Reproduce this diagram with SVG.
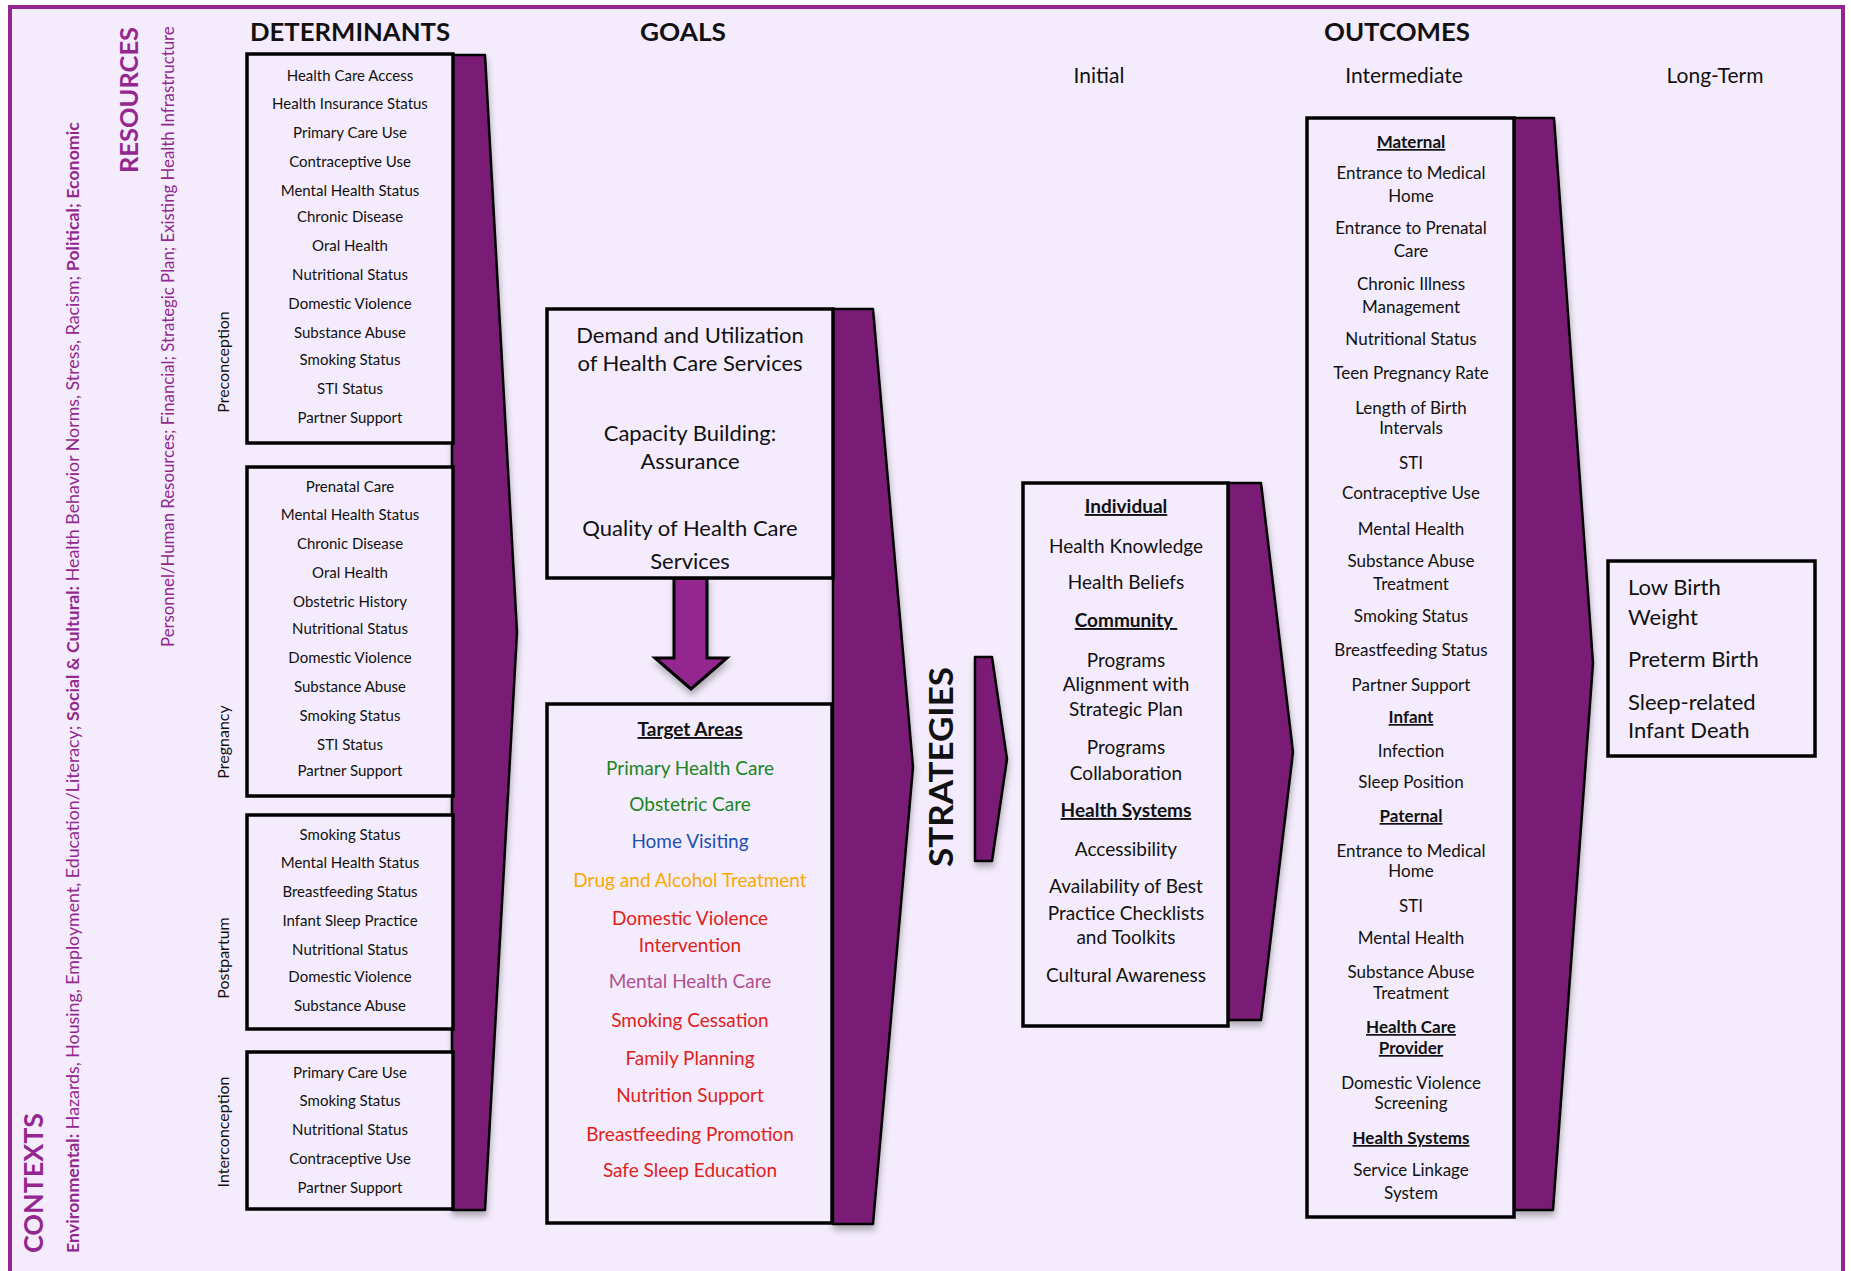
<svg xmlns="http://www.w3.org/2000/svg" width="1851" height="1271" viewBox="0 0 1851 1271">
<defs>
<filter id="sh" x="-30%" y="-5%" width="160%" height="115%"><feDropShadow dx="1" dy="5" stdDeviation="3" flood-color="#000" flood-opacity="0.28"/></filter>
</defs>
<style>
text{font-family:Lato,"Open Sans","Liberation Sans",sans-serif;fill:#111}
.hd{font-size:24px;font-weight:700;text-anchor:middle}
.sub{font-size:21px;text-anchor:middle}
.box{fill:#F4ECFC;stroke:#000;stroke-width:3.5}
.arr{fill:#7A1A76;stroke:#000;stroke-width:2.5;stroke-linejoin:round}
.d{font-size:15px;text-anchor:middle}
.ph{font-size:16px;text-anchor:middle}
.g{font-size:22px;text-anchor:middle}
.t{font-size:19px;text-anchor:middle}
.s{font-size:19px;text-anchor:middle}
.i{font-size:17px;text-anchor:middle}
.l{font-size:22px}
.u{font-weight:700;text-decoration:underline}
.p{fill:#93278F}
.gr{fill:#1B841F}.bl{fill:#1E50B4}.or{fill:#FBA800}.rd{fill:#E0211B}.mv{fill:#B0508E}
</style>
<rect x="0" y="0" width="1851" height="1271" fill="#fff"/>
<rect x="10" y="7" width="1833" height="1300" fill="#F4ECFC" stroke="#93278F" stroke-width="4"/>

<g id="contexts">
<text class="p" transform="translate(43,1253) rotate(-90)" font-size="26" font-weight="700" textLength="140" lengthAdjust="spacingAndGlyphs">CONTEXTS</text>
<text class="p" transform="translate(79,1253) rotate(-90)" font-size="17.8"><tspan font-weight="700">Environmental:</tspan> Hazards, Housing, Employment, Education/Literacy; <tspan font-weight="700">Social &amp; Cultural:</tspan> Health Behavior Norms, Stress, Racism; <tspan font-weight="700">Political; Economic</tspan></text>
</g>
<g id="resources">
<text class="p" transform="translate(138,173) rotate(-90)" font-size="25" font-weight="700" textLength="146" lengthAdjust="spacingAndGlyphs">RESOURCES</text>
<text class="p" transform="translate(174,647) rotate(-90)" font-size="16.8">Personnel/Human Resources; Financial; Strategic Plan; Existing Health Infrastructure</text>
</g>

<g id="headers">
<text class="hd" x="350" y="41" textLength="200" lengthAdjust="spacingAndGlyphs">DETERMINANTS</text>
<text class="hd" x="683" y="41" textLength="86" lengthAdjust="spacingAndGlyphs">GOALS</text>
<text class="hd" x="1397" y="41" textLength="146" lengthAdjust="spacingAndGlyphs">OUTCOMES</text>
<text class="sub" x="1099" y="83">Initial</text>
<text class="sub" x="1404" y="83">Intermediate</text>
<text class="sub" x="1715" y="83">Long-Term</text>
</g>

<g id="connectors" filter="url(#sh)">
<polygon class="arr" points="452,55 485,55 517,632 485,1210 452,1210"/>
<polygon class="arr" points="833,309 873,309 913,767 873,1224 833,1224"/>
<polygon class="arr" points="975,657 992,657 1007,759 992,861 975,861"/>
<polygon class="arr" points="1228,483 1261,483 1293,752 1261,1020 1228,1020"/>
<polygon class="arr" points="1514,118 1554,118 1593,663 1553,1210 1514,1210"/>
<polygon points="674,578 707,578 707,658 727,658 691,689 655,658 674,658" fill="#93278F" stroke="#000" stroke-width="3" stroke-linejoin="miter"/>
</g>

<g id="preconception">
<rect class="box" x="247" y="54" width="206" height="389"/>
<text class="ph" transform="translate(229,362) rotate(-90)">Preconception</text>
<text class="d" x="350" y="81">Health Care Access</text>
<text class="d" x="350" y="109">Health Insurance Status</text>
<text class="d" x="350" y="138">Primary Care Use</text>
<text class="d" x="350" y="167">Contraceptive Use</text>
<text class="d" x="350" y="196">Mental Health Status</text>
<text class="d" x="350" y="222">Chronic Disease</text>
<text class="d" x="350" y="251">Oral Health</text>
<text class="d" x="350" y="280">Nutritional Status</text>
<text class="d" x="350" y="309">Domestic Violence</text>
<text class="d" x="350" y="338">Substance Abuse</text>
<text class="d" x="350" y="365">Smoking Status</text>
<text class="d" x="350" y="394">STI Status</text>
<text class="d" x="350" y="423">Partner Support</text>
</g>

<g id="pregnancy">
<rect class="box" x="247" y="467" width="206" height="329"/>
<text class="ph" transform="translate(229,742) rotate(-90)">Pregnancy</text>
<text class="d" x="350" y="492">Prenatal Care</text>
<text class="d" x="350" y="520">Mental Health Status</text>
<text class="d" x="350" y="549">Chronic Disease</text>
<text class="d" x="350" y="578">Oral Health</text>
<text class="d" x="350" y="607">Obstetric History</text>
<text class="d" x="350" y="634">Nutritional Status</text>
<text class="d" x="350" y="663">Domestic Violence</text>
<text class="d" x="350" y="692">Substance Abuse</text>
<text class="d" x="350" y="721">Smoking Status</text>
<text class="d" x="350" y="750">STI Status</text>
<text class="d" x="350" y="776">Partner Support</text>
</g>

<g id="postpartum">
<rect class="box" x="247" y="815" width="206" height="214"/>
<text class="ph" transform="translate(229,958) rotate(-90)">Postpartum</text>
<text class="d" x="350" y="840">Smoking Status</text>
<text class="d" x="350" y="868">Mental Health Status</text>
<text class="d" x="350" y="897">Breastfeeding Status</text>
<text class="d" x="350" y="926">Infant Sleep Practice</text>
<text class="d" x="350" y="955">Nutritional Status</text>
<text class="d" x="350" y="982">Domestic Violence</text>
<text class="d" x="350" y="1011">Substance Abuse</text>
</g>

<g id="interconception">
<rect class="box" x="247" y="1052" width="206" height="157"/>
<text class="ph" transform="translate(229,1132) rotate(-90)">Interconception</text>
<text class="d" x="350" y="1078">Primary Care Use</text>
<text class="d" x="350" y="1106">Smoking Status</text>
<text class="d" x="350" y="1135">Nutritional Status</text>
<text class="d" x="350" y="1164">Contraceptive Use</text>
<text class="d" x="350" y="1193">Partner Support</text>
</g>

<g id="goals">
<rect class="box" x="547" y="309" width="286" height="269"/>
<text class="g" x="690" y="343">Demand and Utilization</text>
<text class="g" x="690" y="371">of Health Care Services</text>
<text class="g" x="690" y="441">Capacity Building:</text>
<text class="g" x="690" y="469">Assurance</text>
<text class="g" x="690" y="536">Quality of Health Care</text>
<text class="g" x="690" y="569">Services</text>
</g>

<g id="target-areas">
<rect class="box" x="547" y="704" width="285" height="519"/>
<text class="t u" x="690" y="736">Target Areas</text>
<text class="t gr" x="690" y="775">Primary Health Care</text>
<text class="t gr" x="690" y="811">Obstetric Care</text>
<text class="t bl" x="690" y="848">Home Visiting</text>
<text class="t or" x="690" y="887">Drug and Alcohol Treatment</text>
<text class="t rd" x="690" y="925">Domestic Violence</text>
<text class="t rd" x="690" y="952">Intervention</text>
<text class="t mv" x="690" y="988">Mental Health Care</text>
<text class="t rd" x="690" y="1027">Smoking Cessation</text>
<text class="t rd" x="690" y="1065">Family Planning</text>
<text class="t rd" x="690" y="1102">Nutrition Support</text>
<text class="t rd" x="690" y="1141">Breastfeeding Promotion</text>
<text class="t rd" x="690" y="1177">Safe Sleep Education</text>
</g>

<g id="strategies-label">
<text transform="translate(953,867) rotate(-90)" font-size="33" font-weight="700" textLength="200" lengthAdjust="spacingAndGlyphs">STRATEGIES</text>
</g>

<g id="strategies">
<rect class="box" x="1023" y="483" width="205" height="543"/>
<text class="s u" x="1126" y="513">Individual</text>
<text class="s" x="1126" y="553">Health Knowledge</text>
<text class="s" x="1126" y="589">Health Beliefs</text>
<text class="s u" x="1126" y="627">Community&#160;</text>
<text class="s" x="1126" y="667">Programs</text>
<text class="s" x="1126" y="691">Alignment with</text>
<text class="s" x="1126" y="716">Strategic Plan</text>
<text class="s" x="1126" y="754">Programs</text>
<text class="s" x="1126" y="780">Collaboration</text>
<text class="s u" x="1126" y="817">Health Systems</text>
<text class="s" x="1126" y="856">Accessibility</text>
<text class="s" x="1126" y="893">Availability of Best</text>
<text class="s" x="1126" y="920">Practice Checklists</text>
<text class="s" x="1126" y="944">and Toolkits</text>
<text class="s" x="1126" y="982">Cultural Awareness</text>
</g>

<g id="intermediate">
<rect class="box" x="1307" y="118" width="207" height="1099"/>
<text class="i u" x="1411" y="148">Maternal</text>
<text class="i" x="1411" y="179">Entrance to Medical</text>
<text class="i" x="1411" y="202">Home</text>
<text class="i" x="1411" y="234">Entrance to Prenatal</text>
<text class="i" x="1411" y="257">Care</text>
<text class="i" x="1411" y="290">Chronic Illness</text>
<text class="i" x="1411" y="313">Management</text>
<text class="i" x="1411" y="345">Nutritional Status</text>
<text class="i" x="1411" y="379">Teen Pregnancy Rate</text>
<text class="i" x="1411" y="414">Length of Birth</text>
<text class="i" x="1411" y="434">Intervals</text>
<text class="i" x="1411" y="469">STI</text>
<text class="i" x="1411" y="499">Contraceptive Use</text>
<text class="i" x="1411" y="535">Mental Health</text>
<text class="i" x="1411" y="567">Substance Abuse</text>
<text class="i" x="1411" y="590">Treatment</text>
<text class="i" x="1411" y="622">Smoking Status</text>
<text class="i" x="1411" y="656">Breastfeeding Status</text>
<text class="i" x="1411" y="691">Partner Support</text>
<text class="i u" x="1411" y="723">Infant</text>
<text class="i" x="1411" y="757">Infection</text>
<text class="i" x="1411" y="788">Sleep Position</text>
<text class="i u" x="1411" y="822">Paternal</text>
<text class="i" x="1411" y="857">Entrance to Medical</text>
<text class="i" x="1411" y="877">Home</text>
<text class="i" x="1411" y="912">STI</text>
<text class="i" x="1411" y="944">Mental Health</text>
<text class="i" x="1411" y="978">Substance Abuse</text>
<text class="i" x="1411" y="999">Treatment</text>
<text class="i u" x="1411" y="1033">Health Care</text>
<text class="i u" x="1411" y="1054">Provider</text>
<text class="i" x="1411" y="1089">Domestic Violence</text>
<text class="i" x="1411" y="1109">Screening</text>
<text class="i u" x="1411" y="1144">Health Systems</text>
<text class="i" x="1411" y="1176">Service Linkage</text>
<text class="i" x="1411" y="1199">System</text>
</g>

<g id="long-term">
<rect class="box" x="1608" y="561" width="207" height="195"/>
<text class="l" x="1628" y="595">Low Birth</text>
<text class="l" x="1628" y="625">Weight</text>
<text class="l" x="1628" y="667">Preterm Birth</text>
<text class="l" x="1628" y="710">Sleep-related</text>
<text class="l" x="1628" y="738">Infant Death</text>
</g>
</svg>
